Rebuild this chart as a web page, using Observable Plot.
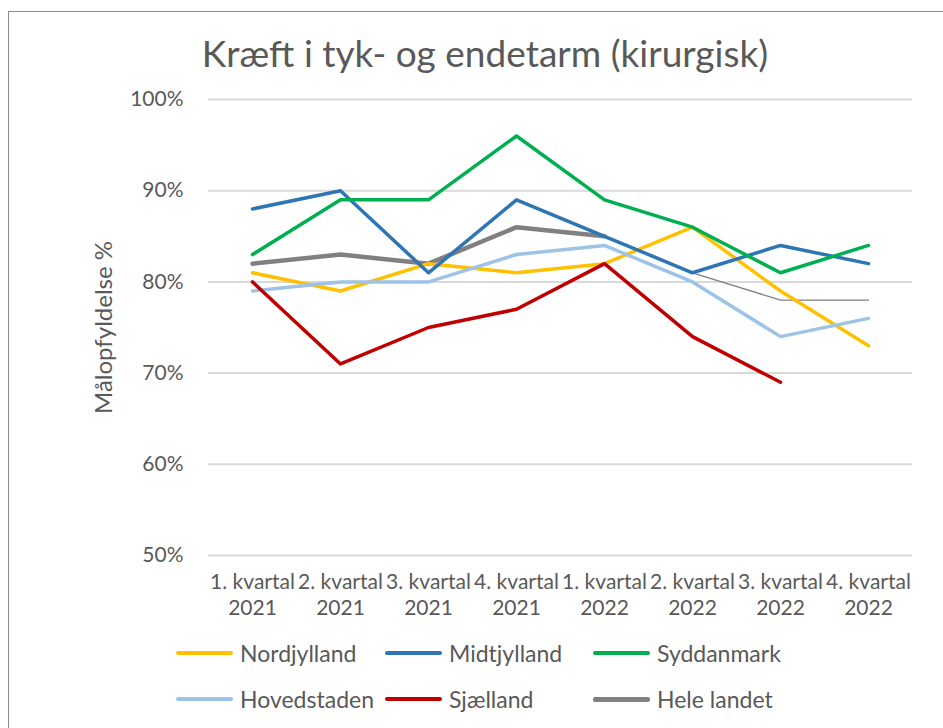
<!DOCTYPE html>
<html>
<head>
<meta charset="utf-8">
<script src="https://cdn.jsdelivr.net/npm/d3@7"></script>
<script src="https://cdn.jsdelivr.net/npm/@observablehq/plot@0.6"></script>
<style>
  body { margin: 0; background: #fff; }
  #wrap { position: relative; width: 943px; height: 728px; overflow: hidden; font-family: Lato, "Open Sans", sans-serif; color: #595959; background: #fff; }
  #frame { position: absolute; left: 8px; top: 11px; width: 980px; height: 780px; border: 1.5px solid #8c8c8c; box-sizing: border-box; }
  #title { position: absolute; left: 0; width: 970px; top: 28px; text-align: center; font-size: 37px; line-height: 50px; white-space: nowrap; }
  #chart { position: absolute; left: 0; top: 0; }
  .leg { position: absolute; display: flex; align-items: center; height: 30px; font-size: 23px; white-space: nowrap; }
  .leg .sw { width: 57px; border-radius: 2px; margin-right: 7px; }
</style>
</head>
<body>
<div id="wrap">
  <div id="frame"></div>
  <div id="chart"></div>
  <div id="title">Kræft i tyk- og endetarm (kirurgisk)</div>
</div>
<script>
const quarters = ["1. kvartal 2021", "2. kvartal 2021", "3. kvartal 2021", "4. kvartal 2021",
                  "1. kvartal 2022", "2. kvartal 2022", "3. kvartal 2022", "4. kvartal 2022"];
const quarterLabels = ["1. kvartal\n2021", "2. kvartal\n2021", "3. kvartal\n2021", "4. kvartal\n2021",
                       "1. kvartal\n2022", "2. kvartal\n2022", "3. kvartal\n2022", "4. kvartal\n2022"];
const seriesNames = ["Nordjylland", "Midtjylland", "Syddanmark", "Hovedstaden", "Sjælland", "Hele landet"];
const seriesColors = ["#FFC000", "#2E75B6", "#00B050", "#9DC3E6", "#C00000", "#808080"];

const nordjylland = [81, 79, 82, 81, 82, 86, 79, 73];
const midtjylland = [88, 90, 81, 89, 85, 81, 84, 82];
const syddanmark  = [83, 89, 89, 96, 89, 86, 81, 84];
const hovedstaden = [79, 80, 80, 83, 84, 80, 74, 76];
const sjaelland   = [80, 71, 75, 77, 82, 74, 69, null];
const heleLandet  = [82, 83, 82, 86, 85, 81, 78, 78];
const heleThickUntil = 4; // index of last point drawn with the thick line

const yTicks = [0.5, 0.6, 0.7, 0.8, 0.9, 1.0];

const seriesValues = [nordjylland, midtjylland, syddanmark, hovedstaden, sjaelland, heleLandet];

function toRows(name, vals, from = 0, to = vals.length - 1) {
  const rows = [];
  for (let i = from; i <= to; i++) rows.push({ q: quarters[i], v: vals[i] == null ? null : vals[i] / 100, s: name });
  return rows;
}
const regionRows = [];
seriesNames.slice(0, 5).forEach((n, k) => regionRows.push(...toRows(n, seriesValues[k])));
const heleThick = toRows("Hele landet", heleLandet, 0, heleThickUntil);
const heleThin = toRows("Hele landet", heleLandet, heleThickUntil, heleLandet.length - 1);

const labelOf = new Map(quarters.map((q, i) => [q, quarterLabels[i]]));

const chart = Plot.plot({
  width: 943,
  height: 728,
  marginLeft: 208,
  marginRight: 31,
  marginTop: 99,
  marginBottom: 173,
  style: { fontFamily: 'Lato, "Open Sans", sans-serif', color: "#595959", background: "transparent", overflow: "visible" },
  x: { type: "point", domain: quarters, padding: 0.5 },
  y: { domain: [0.5, 1] },
  color: { domain: seriesNames, range: seriesColors },
  marks: [
    Plot.ruleY(yTicks, { stroke: "#d9d9d9", strokeWidth: 2 }),
    Plot.axisY({ ticks: yTicks, tickFormat: d3.format(".0%"), tickSize: 0, tickPadding: 25, fontSize: 21, label: null }),
    Plot.axisX({ tickSize: 0, tickPadding: 16, fontSize: 21, lineAnchor: "top", lineHeight: 1.2, label: null, tickFormat: d => labelOf.get(d) }),
    Plot.text(["Målopfyldelse %"], { frameAnchor: "left", textAnchor: "middle", dx: -104, rotate: -90, fontSize: 24 }),
    Plot.line(heleThin, { x: "q", y: "v", stroke: "s", strokeWidth: 1.3 }),
    Plot.line(heleThick, { x: "q", y: "v", stroke: "s", strokeWidth: 4.5, strokeLinejoin: "round" }),
    Plot.line(regionRows, { x: "q", y: "v", z: "s", stroke: "s", strokeWidth: 3.5, strokeLinejoin: "round" })
  ]
});
document.getElementById("chart").appendChild(chart);

// Legend
const legCols = [176, 385, 593];
const legRows = [653, 699];
const wrap = document.getElementById("wrap");
seriesNames.forEach((n, i) => {
  const d = document.createElement("div");
  d.className = "leg";
  d.style.left = legCols[i % 3] + "px";
  d.style.top = (legRows[Math.floor(i / 3)] - 15) + "px";
  const sw = document.createElement("span");
  sw.className = "sw";
  sw.style.background = seriesColors[i];
  sw.style.height = (n === "Hele landet" ? 5 : 3.5) + "px";
  const t = document.createElement("span");
  t.textContent = n;
  d.appendChild(sw);
  d.appendChild(t);
  wrap.appendChild(d);
});
</script>
</body>
</html>
